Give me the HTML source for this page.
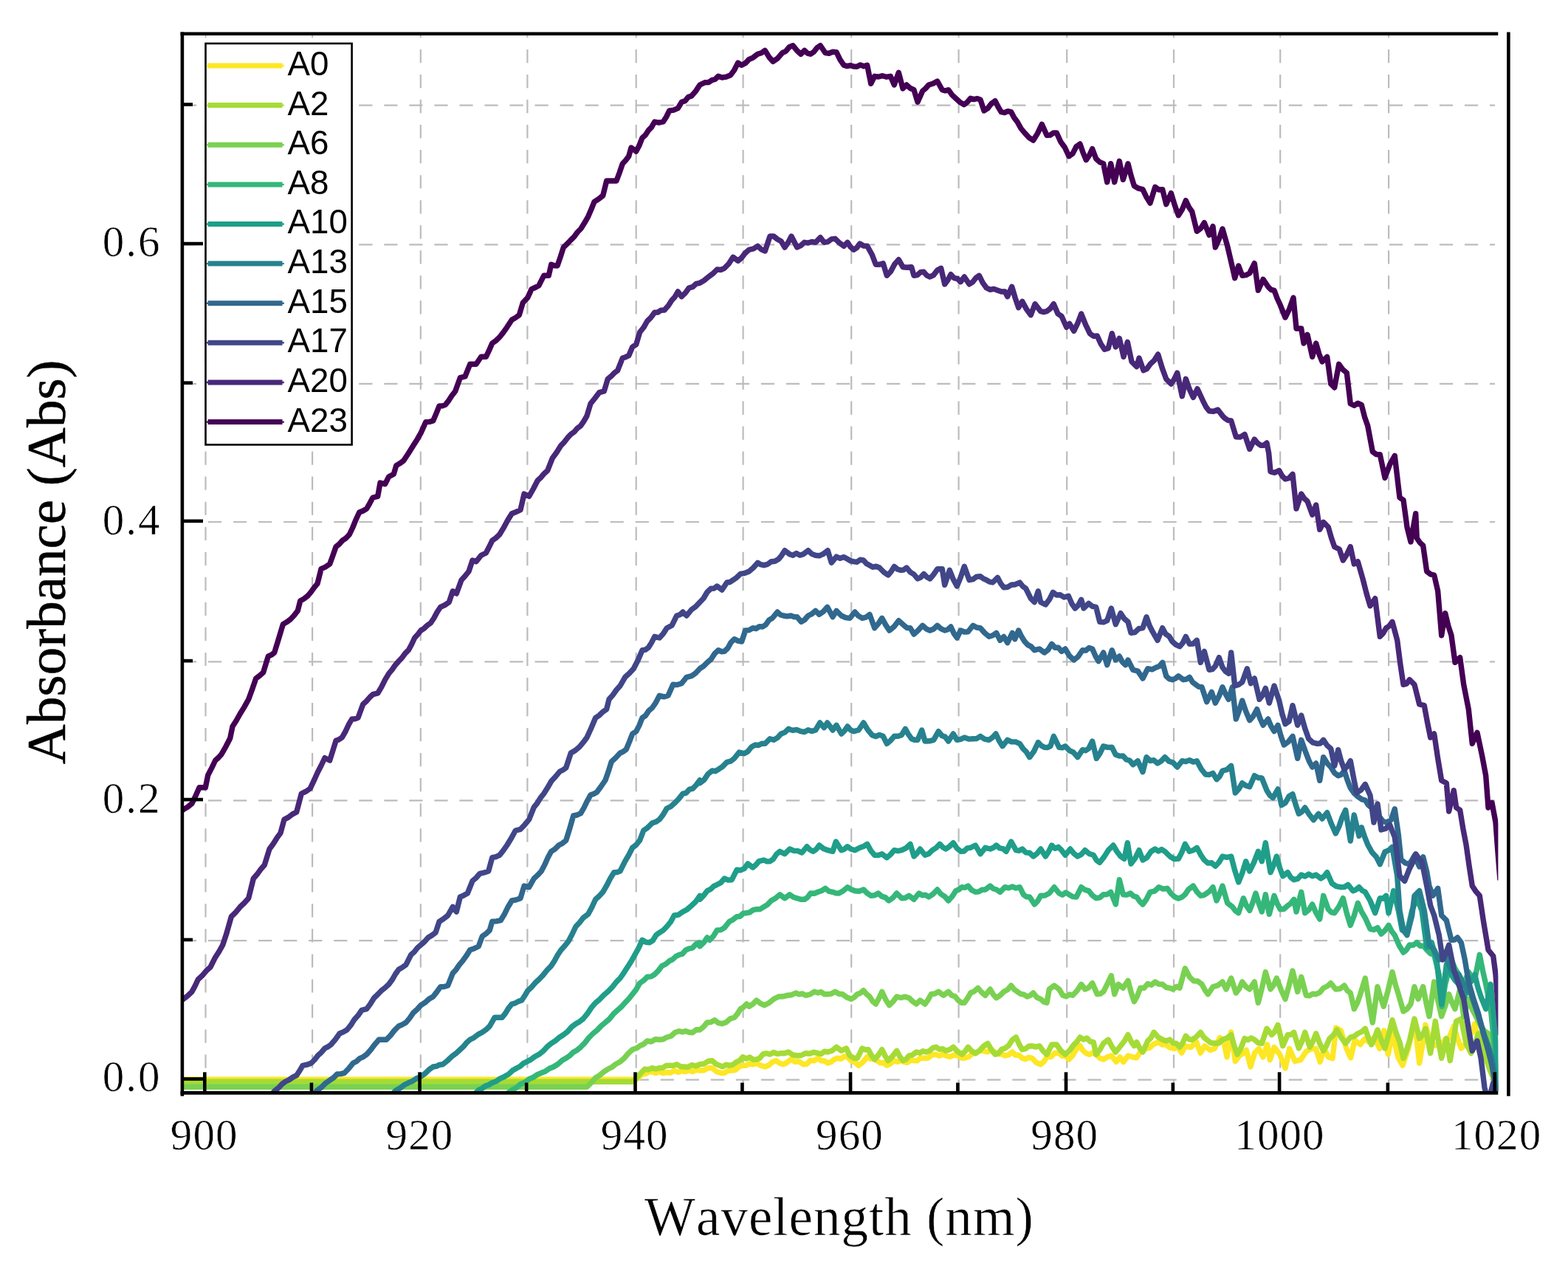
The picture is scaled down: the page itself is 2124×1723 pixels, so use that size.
<!DOCTYPE html>
<html lang="en"><head><meta charset="utf-8"><title>Absorbance vs Wavelength</title>
<style>html,body{margin:0;padding:0;background:#fff}body{width:2124px;height:1723px}svg{display:block}.t{font-family:"Liberation Serif","DejaVu Serif",serif;fill:#000}.l{font-family:"Liberation Sans","DejaVu Sans",sans-serif;fill:#000}</style></head><body>
<svg width="2124" height="1723" viewBox="0 0 2124 1723">
<rect x="0" y="0" width="2124" height="1723" fill="#fff"/>
<defs><clipPath id="cp"><rect x="249.0" y="48.0" width="1780.4" height="1430.1"/></clipPath><clipPath id="gp"><rect x="249.0" y="48.0" width="1776.0" height="1430.0"/></clipPath></defs>
<g clip-path="url(#gp)" stroke="#bcbcbc" stroke-width="2.2" fill="none" stroke-dasharray="18.2 15.84"><line x1="278.5" y1="32.9" x2="278.5" y2="1480"/><line x1="423.1" y1="32.9" x2="423.1" y2="1480"/><line x1="569.8" y1="32.9" x2="569.8" y2="1480"/><line x1="714.4" y1="32.9" x2="714.4" y2="1480"/><line x1="861.7" y1="32.9" x2="861.7" y2="1480"/><line x1="1006.6" y1="32.9" x2="1006.6" y2="1480"/><line x1="1153.2" y1="32.9" x2="1153.2" y2="1480"/><line x1="1298.6" y1="32.9" x2="1298.6" y2="1480"/><line x1="1445.2" y1="32.9" x2="1445.2" y2="1480"/><line x1="1590.0" y1="32.9" x2="1590.0" y2="1480"/><line x1="1734.2" y1="32.9" x2="1734.2" y2="1480"/><line x1="1881.1" y1="32.9" x2="1881.1" y2="1480"/><line x1="247.96" y1="1462.7" x2="2030" y2="1462.7"/><line x1="247.96" y1="1274.1" x2="2030" y2="1274.1"/><line x1="247.96" y1="1084.3" x2="2030" y2="1084.3"/><line x1="247.96" y1="896.3" x2="2030" y2="896.3"/><line x1="247.96" y1="707.0" x2="2030" y2="707.0"/><line x1="247.96" y1="519.8" x2="2030" y2="519.8"/><line x1="247.96" y1="331.3" x2="2030" y2="331.3"/><line x1="247.96" y1="142.7" x2="2030" y2="142.7"/></g>
<g clip-path="url(#cp)" fill="none" stroke-width="7.4" stroke-linejoin="round" stroke-linecap="butt">
<path d="M240.0 1462.3 L245.2 1462.3 L250.4 1462.3 L255.6 1462.3 L260.8 1462.3 L266.1 1462.3 L271.3 1462.3 L276.5 1462.3 L281.7 1462.3 L286.9 1462.3 L292.1 1462.3 L297.3 1462.3 L302.5 1462.3 L307.7 1462.3 L312.9 1462.3 L318.2 1462.3 L323.4 1462.3 L328.6 1462.3 L333.8 1462.3 L339.0 1462.3 L344.2 1462.3 L349.4 1462.3 L354.6 1462.3 L359.8 1462.3 L365.0 1462.3 L370.3 1462.3 L375.5 1462.3 L380.7 1462.3 L385.9 1462.3 L391.1 1462.3 L396.3 1462.3 L401.5 1462.3 L406.7 1462.3 L411.9 1462.3 L417.1 1462.3 L422.4 1462.3 L427.6 1462.3 L432.8 1462.3 L438.0 1462.3 L443.2 1462.3 L448.4 1462.3 L453.6 1462.3 L458.8 1462.3 L464.0 1462.3 L469.2 1462.3 L474.5 1462.3 L479.7 1462.3 L484.9 1462.3 L490.1 1462.3 L495.3 1462.3 L500.5 1462.3 L505.7 1462.3 L510.9 1462.3 L516.1 1462.3 L521.3 1462.3 L526.6 1462.3 L531.8 1462.3 L537.0 1462.3 L542.2 1462.3 L547.4 1462.3 L552.6 1462.3 L557.8 1462.3 L563.0 1462.3 L568.2 1462.3 L573.4 1462.3 L578.7 1462.3 L583.9 1462.3 L589.1 1462.3 L594.3 1462.3 L599.5 1462.3 L604.7 1462.3 L609.9 1462.3 L615.1 1462.3 L620.3 1462.3 L625.5 1462.3 L630.8 1462.3 L636.0 1462.3 L641.2 1462.3 L646.4 1462.3 L651.6 1462.3 L656.8 1462.3 L662.0 1462.3 L667.2 1462.3 L672.4 1462.3 L677.6 1462.3 L682.9 1462.3 L688.1 1462.3 L693.3 1462.3 L698.5 1462.3 L703.7 1462.3 L708.9 1462.3 L714.1 1462.3 L719.3 1462.3 L724.5 1462.3 L729.7 1462.3 L735.0 1462.3 L740.2 1462.3 L745.4 1462.3 L750.6 1462.3 L755.8 1462.3 L761.0 1462.3 L766.2 1462.3 L771.4 1462.3 L776.6 1462.3 L781.8 1462.3 L787.1 1462.3 L792.3 1462.3 L797.5 1462.3 L802.7 1462.3 L807.9 1462.3 L813.1 1462.3 L818.3 1462.3 L823.5 1462.3 L828.7 1462.3 L833.9 1462.3 L839.2 1462.3 L844.4 1462.3 L849.6 1462.3 L854.8 1462.3 L860.0 1462.3 L865.0 1459.7 L870.0 1455.0 L874.4 1454.6 L878.9 1452.1 L883.3 1451.7 L888.3 1453.5 L893.3 1451.3 L898.3 1453.7 L903.3 1452.7 L908.3 1453.1 L913.3 1450.2 L918.3 1452.4 L923.3 1450.7 L928.3 1451.5 L933.2 1449.6 L938.1 1451.6 L943.1 1449.4 L948.0 1450.0 L953.6 1449.7 L959.1 1446.6 L964.7 1446.7 L970.5 1451.5 L976.3 1453.3 L981.3 1453.5 L986.3 1450.2 L991.3 1450.0 L996.3 1449.3 L1001.3 1444.7 L1006.3 1443.3 L1010.9 1443.2 L1015.5 1440.8 L1020.1 1441.9 L1024.7 1440.0 L1030.5 1443.2 L1036.3 1445.0 L1041.3 1443.0 L1046.3 1438.5 L1051.3 1436.7 L1056.3 1440.4 L1061.3 1441.7 L1066.3 1439.1 L1071.3 1435.0 L1076.9 1438.2 L1082.4 1437.9 L1088.0 1441.7 L1093.0 1441.2 L1098.0 1436.2 L1103.0 1436.7 L1108.0 1433.3 L1112.4 1436.8 L1116.9 1437.0 L1121.3 1440.0 L1125.8 1438.5 L1130.2 1434.9 L1134.7 1433.3 L1139.1 1434.3 L1143.6 1430.9 L1148.0 1431.7 L1153.0 1437.1 L1158.0 1438.8 L1163.0 1443.3 L1168.8 1438.8 L1174.7 1431.7 L1179.1 1434.4 L1183.6 1433.7 L1188.0 1436.7 L1192.4 1439.8 L1196.9 1439.5 L1201.3 1443.3 L1206.3 1440.7 L1211.3 1436.7 L1215.8 1438.4 L1220.2 1436.4 L1224.7 1438.3 L1229.1 1439.3 L1233.6 1435.9 L1238.0 1436.7 L1242.4 1436.9 L1246.9 1433.0 L1251.3 1433.3 L1256.9 1433.2 L1262.4 1429.0 L1268.0 1428.3 L1272.4 1430.2 L1276.9 1427.9 L1281.3 1430.0 L1286.9 1431.5 L1292.4 1429.0 L1298.0 1430.0 L1302.2 1433.1 L1306.3 1433.3 L1312.2 1431.5 L1318.0 1426.7 L1322.4 1426.7 L1326.9 1423.2 L1331.3 1423.3 L1336.9 1424.9 L1342.4 1423.2 L1348.0 1425.0 L1352.4 1427.9 L1356.9 1427.6 L1361.3 1430.0 L1366.3 1428.8 L1371.3 1425.0 L1375.8 1429.4 L1380.2 1429.1 L1384.7 1433.3 L1389.1 1434.7 L1393.6 1432.3 L1398.0 1433.3 L1403.8 1439.4 L1409.7 1441.7 L1413.8 1438.3 L1418.0 1431.7 L1423.6 1431.5 L1429.1 1426.3 L1434.7 1426.7 L1439.1 1430.4 L1443.6 1430.4 L1448.0 1435.0 L1453.0 1429.8 L1458.0 1421.1 L1463.0 1416.7 L1467.2 1423.2 L1471.3 1426.7 L1475.8 1428.4 L1480.2 1426.0 L1484.7 1428.3 L1489.7 1433.2 L1494.7 1435.0 L1500.0 1431.8 L1505.6 1429.9 L1512.2 1438.4 L1516.9 1431.8 L1521.7 1438.4 L1528.2 1429.9 L1533.9 1431.8 L1539.5 1432.8 L1545.2 1424.3 L1552.7 1420.5 L1557.4 1419.4 L1562.1 1414.9 L1569.7 1411.1 L1574.4 1415.1 L1579.1 1414.9 L1584.7 1418.9 L1590.4 1420.5 L1596.0 1418.6 L1600.8 1426.2 L1605.5 1416.8 L1613.0 1418.6 L1620.5 1411.1 L1626.2 1426.2 L1631.8 1416.8 L1639.4 1422.4 L1645.0 1420.5 L1652.5 1405.5 L1658.2 1413.0 L1662.0 1431.8 L1667.6 1397.9 L1673.3 1437.5 L1678.9 1429.9 L1683.6 1427.1 L1688.3 1422.4 L1694.0 1445.0 L1699.6 1426.2 L1705.3 1420.5 L1710.9 1431.8 L1716.6 1414.9 L1720.3 1435.6 L1726.0 1418.6 L1733.5 1428.1 L1741.1 1446.9 L1746.7 1420.5 L1754.2 1437.5 L1761.8 1435.6 L1769.3 1424.3 L1776.8 1420.5 L1782.5 1420.5 L1788.1 1438.4 L1793.8 1420.5 L1799.4 1431.8 L1805.1 1433.7 L1809.8 1392.3 L1816.4 1396.0 L1823.9 1420.5 L1829.6 1432.8 L1835.2 1409.2 L1842.7 1414.9 L1848.4 1407.3 L1854.0 1411.1 L1861.6 1405.5 L1869.1 1420.5 L1874.8 1396.0 L1880.4 1428.1 L1886.1 1397.9 L1893.6 1431.8 L1900.0 1443.1 L1907.7 1420.0 L1911.8 1402.1 L1916.0 1381.7 L1922.7 1440.0 L1926.8 1415.9 L1931.0 1388.3 L1935.2 1403.6 L1939.3 1416.7 L1944.3 1416.1 L1949.3 1413.3 L1953.8 1413.2 L1958.2 1407.1 L1962.7 1406.7 L1969.3 1390.0 L1974.3 1406.5 L1979.3 1420.0 L1984.3 1415.4 L1989.3 1406.7 L1993.5 1398.0 L1997.7 1386.7 L2001.8 1405.1 L2006.0 1420.0 L2011.0 1427.8 L2016.0 1433.3 L2021.0 1451.4 L2026.0 1466.7 L2028.7 1500.0" stroke="#fde725"/>
<path d="M240.0 1465.3 L245.2 1465.3 L250.4 1465.3 L255.5 1465.3 L260.7 1465.3 L265.9 1465.3 L271.1 1465.3 L276.3 1465.3 L281.5 1465.3 L286.6 1465.3 L291.8 1465.3 L297.0 1465.3 L302.2 1465.3 L307.4 1465.3 L312.5 1465.3 L317.7 1465.3 L322.9 1465.3 L328.1 1465.3 L333.3 1465.3 L338.5 1465.3 L343.6 1465.3 L348.8 1465.3 L354.0 1465.3 L359.2 1465.3 L364.4 1465.3 L369.6 1465.3 L374.7 1465.3 L379.9 1465.3 L385.1 1465.3 L390.3 1465.3 L395.5 1465.3 L400.6 1465.3 L405.8 1465.3 L411.0 1465.3 L416.2 1465.3 L421.4 1465.3 L426.6 1465.3 L431.7 1465.3 L436.9 1465.3 L442.1 1465.3 L447.3 1465.3 L452.5 1465.3 L457.6 1465.3 L462.8 1465.3 L468.0 1465.3 L473.2 1465.3 L478.4 1465.3 L483.6 1465.3 L488.7 1465.3 L493.9 1465.3 L499.1 1465.3 L504.3 1465.3 L509.5 1465.3 L514.6 1465.3 L519.8 1465.3 L525.0 1465.3 L530.2 1465.3 L535.4 1465.3 L540.6 1465.3 L545.7 1465.3 L550.9 1465.3 L556.1 1465.3 L561.3 1465.3 L566.5 1465.3 L571.7 1465.3 L576.8 1465.3 L582.0 1465.3 L587.2 1465.3 L592.4 1465.3 L597.6 1465.3 L602.7 1465.3 L607.9 1465.3 L613.1 1465.3 L618.3 1465.3 L623.5 1465.3 L628.7 1465.3 L633.8 1465.3 L639.0 1465.3 L644.2 1465.3 L649.4 1465.3 L654.6 1465.3 L659.7 1465.3 L664.9 1465.3 L670.1 1465.3 L675.3 1465.3 L680.5 1465.3 L685.7 1465.3 L690.8 1465.3 L696.0 1465.3 L701.2 1465.3 L706.4 1465.3 L711.6 1465.3 L716.8 1465.3 L721.9 1465.3 L727.1 1465.3 L732.3 1465.3 L737.5 1465.3 L742.7 1465.3 L747.8 1465.3 L753.0 1465.3 L758.2 1465.3 L763.4 1465.3 L768.6 1465.3 L773.8 1465.3 L778.9 1465.3 L784.1 1465.3 L789.3 1465.3 L794.5 1465.3 L799.7 1465.3 L804.8 1465.3 L810.0 1465.3 L815.2 1465.3 L820.4 1465.3 L825.6 1465.3 L830.8 1465.3 L835.9 1465.3 L841.1 1465.3 L846.3 1465.3 L851.5 1465.3 L856.7 1465.3 L861.7 1461.3 L866.7 1455.0 L873.3 1448.3 L878.3 1448.8 L883.3 1446.7 L888.3 1448.0 L893.3 1446.7 L897.8 1446.4 L902.2 1443.5 L906.7 1443.3 L911.7 1443.4 L916.7 1441.7 L921.7 1444.6 L926.7 1445.0 L932.0 1445.5 L937.3 1442.6 L942.7 1444.0 L948.0 1441.7 L953.6 1441.0 L959.1 1437.5 L964.7 1436.7 L969.7 1441.1 L974.7 1443.3 L979.1 1444.9 L983.6 1442.2 L988.0 1443.3 L993.0 1442.1 L998.0 1438.3 L1002.2 1436.5 L1006.3 1431.7 L1010.9 1434.1 L1015.5 1432.0 L1020.1 1435.2 L1024.7 1435.0 L1029.1 1433.4 L1033.6 1427.9 L1038.0 1426.7 L1043.0 1428.1 L1048.0 1425.5 L1053.0 1427.6 L1058.0 1426.7 L1063.0 1426.8 L1068.0 1425.0 L1073.8 1428.8 L1079.7 1430.0 L1085.5 1429.5 L1091.3 1426.7 L1096.9 1427.3 L1102.4 1425.3 L1108.0 1426.7 L1112.4 1427.6 L1116.9 1424.1 L1121.3 1425.0 L1127.2 1423.2 L1133.0 1418.3 L1139.7 1423.3 L1146.3 1420.0 L1151.3 1430.0 L1156.3 1433.2 L1161.3 1433.3 L1168.0 1420.0 L1172.2 1422.0 L1176.3 1421.7 L1180.5 1429.7 L1184.7 1435.0 L1189.7 1429.3 L1194.7 1421.7 L1198.8 1429.9 L1203.0 1436.7 L1208.8 1431.0 L1214.7 1423.3 L1218.8 1430.9 L1223.0 1436.7 L1227.2 1434.9 L1231.3 1430.0 L1236.3 1428.8 L1241.3 1425.0 L1245.8 1426.2 L1250.2 1423.8 L1254.7 1425.0 L1259.1 1423.5 L1263.6 1419.4 L1268.0 1418.3 L1272.4 1421.3 L1276.9 1420.6 L1281.3 1423.3 L1286.3 1421.7 L1291.3 1418.3 L1297.2 1424.4 L1303.0 1428.3 L1307.2 1424.3 L1311.3 1418.3 L1316.3 1423.8 L1321.3 1426.7 L1326.9 1423.0 L1332.4 1417.1 L1338.0 1413.3 L1343.0 1421.8 L1348.0 1428.3 L1352.4 1426.9 L1356.9 1421.4 L1361.3 1420.0 L1366.3 1416.3 L1371.3 1408.5 L1376.3 1405.0 L1380.5 1414.3 L1384.7 1421.7 L1389.1 1420.7 L1393.6 1417.2 L1398.0 1416.7 L1403.0 1418.1 L1408.0 1416.7 L1413.0 1423.6 L1418.0 1428.3 L1424.7 1415.0 L1431.3 1415.0 L1437.2 1423.4 L1443.0 1428.3 L1448.8 1423.0 L1454.7 1415.0 L1458.8 1411.2 L1463.0 1405.0 L1467.6 1408.0 L1472.2 1406.2 L1476.8 1410.9 L1481.3 1411.7 L1484.7 1428.3 L1489.7 1422.2 L1494.7 1413.3 L1501.3 1408.3 L1506.3 1417.9 L1511.3 1425.0 L1518.0 1416.7 L1523.0 1410.3 L1528.0 1401.7 L1532.2 1410.6 L1536.3 1416.7 L1539.7 1411.7 L1543.8 1419.5 L1548.0 1425.0 L1554.7 1410.0 L1558.8 1406.3 L1563.0 1398.3 L1568.8 1404.9 L1574.7 1408.3 L1579.7 1410.1 L1584.7 1408.3 L1589.1 1412.8 L1593.6 1413.5 L1598.0 1418.3 L1602.2 1412.5 L1606.3 1403.3 L1610.5 1407.8 L1614.7 1408.3 L1620.5 1404.5 L1626.3 1398.3 L1630.5 1404.8 L1634.7 1408.3 L1640.5 1412.8 L1646.3 1413.3 L1651.2 1412.8 L1656.0 1408.3 L1661.8 1406.2 L1667.7 1401.7 L1671.8 1416.6 L1676.0 1428.3 L1681.0 1419.4 L1686.0 1406.7 L1690.4 1408.6 L1694.9 1406.0 L1699.3 1408.3 L1704.3 1412.6 L1709.3 1413.3 L1716.0 1393.3 L1722.7 1401.7 L1726.8 1397.2 L1731.0 1388.3 L1737.7 1416.7 L1744.3 1401.7 L1748.5 1401.6 L1752.7 1398.3 L1759.3 1420.0 L1763.5 1410.9 L1767.7 1398.3 L1774.3 1418.3 L1778.5 1410.5 L1782.7 1400.0 L1787.7 1413.5 L1792.7 1423.3 L1796.8 1416.3 L1801.0 1406.7 L1806.0 1402.4 L1811.0 1395.0 L1816.8 1405.5 L1822.7 1413.3 L1829.3 1405.0 L1834.3 1403.8 L1839.3 1400.0 L1844.3 1397.7 L1849.3 1393.3 L1853.5 1405.3 L1857.7 1415.0 L1861.8 1406.6 L1866.0 1395.0 L1871.0 1408.7 L1876.0 1420.0 L1881.0 1401.8 L1886.0 1381.7 L1891.0 1398.6 L1896.0 1411.7 L1901.0 1433.3 L1905.2 1422.9 L1909.3 1410.0 L1916.0 1380.0 L1922.7 1406.7 L1926.8 1402.1 L1931.0 1393.3 L1937.7 1426.7 L1944.3 1383.3 L1948.5 1410.0 L1952.7 1433.3 L1959.3 1406.7 L1964.3 1436.7 L1968.5 1411.4 L1972.7 1383.3 L1979.3 1380.0 L1986.0 1413.3 L1992.7 1426.7 L1997.7 1415.4 L2002.7 1400.0 L2007.7 1418.7 L2012.7 1433.3 L2017.7 1448.0 L2022.7 1460.0 L2027.7 1476.7 L2028.7 1500.0" stroke="#a5db36"/>
<path d="M240.0 1472.3 L245.2 1472.3 L250.4 1472.3 L255.6 1472.3 L260.7 1472.3 L265.9 1472.3 L271.1 1472.3 L276.3 1472.3 L281.5 1472.3 L286.7 1472.3 L291.9 1472.3 L297.1 1472.3 L302.2 1472.3 L307.4 1472.3 L312.6 1472.3 L317.8 1472.3 L323.0 1472.3 L328.2 1472.3 L333.4 1472.3 L338.6 1472.3 L343.7 1472.3 L348.9 1472.3 L354.1 1472.3 L359.3 1472.3 L364.5 1472.3 L369.7 1472.3 L374.9 1472.3 L380.0 1472.3 L385.2 1472.3 L390.4 1472.3 L395.6 1472.3 L400.8 1472.3 L406.0 1472.3 L411.2 1472.3 L416.4 1472.3 L421.5 1472.3 L426.7 1472.3 L431.9 1472.3 L437.1 1472.3 L442.3 1472.3 L447.5 1472.3 L452.7 1472.3 L457.9 1472.3 L463.0 1472.3 L468.2 1472.3 L473.4 1472.3 L478.6 1472.3 L483.8 1472.3 L489.0 1472.3 L494.2 1472.3 L499.3 1472.3 L504.5 1472.3 L509.7 1472.3 L514.9 1472.3 L520.1 1472.3 L525.3 1472.3 L530.5 1472.3 L535.7 1472.3 L540.8 1472.3 L546.0 1472.3 L551.2 1472.3 L556.4 1472.3 L561.6 1472.3 L566.8 1472.3 L572.0 1472.3 L577.1 1472.3 L582.3 1472.3 L587.5 1472.3 L592.7 1472.3 L597.9 1472.3 L603.1 1472.3 L608.3 1472.3 L613.5 1472.3 L618.6 1472.3 L623.8 1472.3 L629.0 1472.3 L634.2 1472.3 L639.4 1472.3 L644.6 1472.3 L649.8 1472.3 L655.0 1472.3 L660.1 1472.3 L665.3 1472.3 L670.5 1472.3 L675.7 1472.3 L680.9 1472.3 L686.1 1472.3 L691.3 1472.3 L696.4 1472.3 L701.6 1472.3 L706.8 1472.3 L712.0 1472.3 L717.2 1472.3 L722.4 1472.3 L727.6 1472.3 L732.8 1472.3 L737.9 1472.3 L743.1 1472.3 L748.3 1472.3 L753.5 1472.3 L758.7 1472.3 L763.9 1472.3 L769.1 1472.3 L774.3 1472.3 L779.4 1472.3 L784.6 1472.3 L789.8 1472.3 L795.0 1472.3 L800.8 1466.6 L806.7 1460.0 L812.2 1456.6 L817.8 1451.9 L823.3 1448.3 L828.9 1445.5 L834.4 1441.2 L840.0 1438.3 L845.6 1433.4 L851.1 1426.9 L856.7 1421.7 L861.7 1420.1 L866.7 1416.7 L871.7 1414.5 L876.7 1410.0 L882.2 1411.0 L887.8 1407.8 L893.3 1408.3 L898.3 1407.8 L903.3 1405.0 L908.9 1403.5 L914.4 1398.5 L920.0 1396.7 L924.4 1397.9 L928.9 1396.7 L933.3 1398.3 L938.2 1398.7 L943.1 1394.8 L948.0 1395.0 L953.0 1390.9 L958.0 1385.0 L963.0 1384.6 L968.0 1381.7 L973.0 1385.6 L978.0 1386.7 L983.6 1384.8 L989.1 1379.9 L994.7 1378.3 L998.8 1373.5 L1003.0 1366.7 L1007.2 1364.2 L1011.3 1360.0 L1014.7 1363.3 L1019.7 1360.1 L1024.7 1355.0 L1030.0 1359.2 L1035.3 1361.7 L1041.7 1358.5 L1048.0 1353.3 L1054.7 1350.0 L1060.5 1349.8 L1066.3 1348.3 L1072.2 1347.7 L1078.0 1345.0 L1082.4 1346.8 L1086.9 1345.9 L1091.3 1348.3 L1097.2 1347.0 L1103.0 1343.3 L1107.6 1344.8 L1112.2 1343.6 L1116.8 1346.7 L1121.3 1346.7 L1126.3 1346.1 L1131.3 1343.3 L1136.3 1346.2 L1141.3 1346.7 L1147.2 1351.0 L1153.0 1353.3 L1157.2 1350.9 L1161.3 1346.7 L1165.5 1345.2 L1169.7 1341.7 L1173.8 1346.6 L1178.0 1350.0 L1182.2 1356.5 L1186.3 1360.0 L1190.5 1352.4 L1194.7 1343.3 L1199.7 1353.9 L1204.7 1361.7 L1209.7 1356.7 L1214.7 1350.0 L1220.2 1351.5 L1225.8 1350.1 L1231.3 1351.7 L1236.3 1356.5 L1241.3 1360.0 L1246.3 1355.0 L1253.0 1360.0 L1257.2 1354.1 L1261.3 1346.7 L1266.3 1346.0 L1271.3 1343.3 L1278.0 1348.3 L1284.7 1343.3 L1289.1 1348.3 L1293.6 1349.6 L1298.0 1355.0 L1302.2 1358.3 L1306.3 1358.3 L1310.5 1352.3 L1314.7 1345.0 L1319.7 1342.8 L1324.7 1338.3 L1329.7 1344.1 L1334.7 1348.3 L1341.3 1340.0 L1345.5 1347.2 L1349.7 1351.7 L1354.7 1348.4 L1359.7 1343.3 L1364.7 1340.7 L1369.7 1335.0 L1373.8 1340.3 L1378.0 1343.3 L1382.4 1346.3 L1386.9 1347.1 L1391.3 1350.0 L1395.5 1348.4 L1399.7 1345.0 L1404.7 1351.2 L1409.7 1353.3 L1413.8 1356.9 L1418.0 1358.3 L1421.3 1340.0 L1428.0 1335.0 L1434.7 1340.0 L1439.7 1348.3 L1444.1 1349.8 L1448.6 1347.0 L1453.0 1348.3 L1458.8 1342.2 L1464.7 1333.3 L1469.7 1340.0 L1474.7 1337.8 L1479.7 1331.7 L1486.3 1346.7 L1490.5 1346.2 L1494.7 1343.3 L1499.7 1333.3 L1505.3 1321.7 L1509.7 1346.7 L1514.7 1333.3 L1521.3 1338.3 L1528.0 1328.3 L1532.2 1344.3 L1536.3 1356.7 L1540.5 1349.3 L1544.7 1338.3 L1549.7 1338.4 L1554.7 1332.6 L1559.7 1334.2 L1564.7 1330.0 L1569.7 1333.1 L1574.7 1333.3 L1579.7 1337.5 L1584.7 1338.3 L1589.1 1340.0 L1593.6 1336.3 L1598.0 1338.3 L1605.3 1311.7 L1611.3 1323.3 L1616.9 1328.7 L1622.4 1329.0 L1628.0 1333.3 L1632.2 1341.1 L1636.3 1346.7 L1643.0 1336.7 L1649.5 1334.9 L1656.0 1330.0 L1661.0 1340.0 L1667.7 1325.0 L1674.3 1345.0 L1678.5 1339.5 L1682.7 1330.0 L1687.7 1336.6 L1692.7 1340.0 L1699.3 1330.0 L1704.3 1358.3 L1709.3 1338.8 L1714.3 1316.7 L1721.0 1340.0 L1725.2 1334.6 L1729.3 1325.0 L1735.2 1340.4 L1741.0 1353.3 L1746.0 1335.2 L1751.0 1315.0 L1757.7 1343.3 L1762.7 1323.3 L1769.3 1348.3 L1773.8 1348.7 L1778.2 1346.3 L1782.7 1346.7 L1787.7 1344.3 L1792.7 1338.3 L1797.7 1336.0 L1802.7 1331.7 L1809.3 1340.0 L1815.2 1339.3 L1821.0 1335.0 L1825.2 1342.0 L1829.3 1345.0 L1834.3 1366.7 L1838.5 1358.9 L1842.7 1346.7 L1849.3 1325.0 L1854.3 1356.9 L1859.3 1385.0 L1866.0 1336.7 L1870.2 1351.4 L1874.3 1363.3 L1880.2 1341.7 L1886.0 1316.7 L1890.2 1333.6 L1894.3 1346.7 L1901.0 1370.0 L1906.0 1366.8 L1911.0 1360.0 L1916.0 1336.7 L1921.0 1353.3 L1927.7 1336.7 L1931.8 1357.9 L1936.0 1376.7 L1942.7 1330.0 L1947.7 1355.2 L1952.7 1376.7 L1957.7 1362.7 L1962.7 1346.7 L1966.8 1358.0 L1971.0 1366.7 L1977.7 1340.0 L1982.7 1376.7 L1989.3 1353.3 L1994.3 1367.2 L1999.3 1376.7 L2006.0 1390.0 L2011.0 1396.5 L2016.0 1400.0 L2020.2 1414.6 L2024.3 1426.7 L2027.7 1466.7 L2028.7 1500.0" stroke="#7ad151"/>
<path d="M683.3 1483.3 L688.3 1480.3 L693.3 1476.7 L699.2 1473.5 L705.0 1468.6 L710.8 1466.1 L716.7 1461.7 L722.2 1459.3 L727.8 1455.7 L733.3 1453.3 L738.9 1451.1 L744.4 1447.2 L750.0 1445.0 L755.6 1441.5 L761.1 1436.7 L766.7 1433.3 L771.7 1430.0 L776.7 1425.2 L781.7 1422.4 L786.7 1418.3 L792.2 1412.6 L797.8 1405.5 L803.3 1400.0 L808.9 1395.4 L814.4 1389.6 L820.0 1385.0 L825.6 1380.1 L831.1 1373.3 L836.7 1368.3 L841.7 1363.7 L846.7 1358.3 L851.7 1353.0 L856.7 1346.7 L861.7 1340.4 L866.7 1331.7 L871.7 1328.3 L876.7 1323.3 L881.7 1322.9 L886.7 1320.0 L891.7 1314.9 L896.7 1308.3 L901.7 1306.0 L906.7 1301.7 L911.1 1299.6 L915.6 1295.3 L920.0 1293.3 L924.4 1292.1 L928.9 1286.8 L933.3 1285.0 L938.2 1283.8 L943.1 1278.4 L948.0 1276.7 L948.0 1281.7 L953.0 1277.1 L958.0 1270.0 L961.3 1273.3 L966.3 1268.1 L971.3 1260.0 L976.3 1259.6 L981.3 1256.7 L988.0 1248.3 L993.0 1245.7 L998.0 1241.7 L1002.4 1241.2 L1006.9 1237.1 L1011.3 1236.7 L1015.8 1235.8 L1020.2 1232.6 L1024.7 1231.7 L1029.7 1231.5 L1034.7 1228.3 L1039.7 1225.3 L1044.7 1220.0 L1050.5 1216.7 L1056.3 1211.7 L1063.0 1216.7 L1069.7 1211.7 L1074.7 1215.2 L1079.7 1216.7 L1084.7 1218.3 L1089.7 1218.3 L1093.8 1215.6 L1098.0 1210.0 L1103.0 1210.3 L1108.0 1208.3 L1113.0 1206.6 L1118.0 1203.3 L1123.0 1207.3 L1128.0 1208.3 L1132.2 1209.9 L1136.3 1210.0 L1142.2 1206.7 L1148.0 1201.7 L1153.0 1204.8 L1158.0 1206.7 L1163.8 1207.2 L1169.7 1205.0 L1174.7 1209.9 L1179.7 1213.3 L1184.7 1212.8 L1189.7 1210.0 L1194.4 1214.1 L1199.2 1215.6 L1204.0 1220.0 L1209.3 1216.3 L1214.7 1210.0 L1221.3 1216.7 L1226.3 1216.2 L1231.3 1213.3 L1238.0 1218.3 L1244.7 1210.0 L1249.1 1212.7 L1253.6 1212.2 L1258.0 1215.0 L1263.8 1211.1 L1269.7 1205.0 L1274.7 1211.2 L1279.7 1214.3 L1284.7 1220.0 L1289.7 1214.4 L1294.7 1206.7 L1298.8 1205.0 L1303.0 1201.7 L1307.2 1202.3 L1311.3 1200.0 L1316.3 1205.7 L1321.3 1208.3 L1325.8 1207.9 L1330.2 1205.3 L1334.7 1205.0 L1341.3 1200.0 L1345.5 1203.8 L1349.7 1205.0 L1354.7 1208.3 L1361.3 1201.7 L1366.3 1202.9 L1371.3 1201.0 L1376.3 1203.0 L1381.3 1201.7 L1386.3 1211.7 L1390.5 1214.9 L1394.7 1215.0 L1401.3 1225.0 L1405.5 1220.6 L1409.7 1213.3 L1415.5 1213.0 L1421.3 1210.0 L1428.0 1201.7 L1434.7 1210.0 L1439.1 1212.2 L1443.6 1209.0 L1448.0 1211.7 L1453.0 1214.6 L1458.0 1215.0 L1464.7 1201.7 L1469.7 1205.4 L1474.7 1206.7 L1479.7 1212.8 L1484.7 1216.7 L1489.7 1215.9 L1494.7 1211.7 L1499.7 1211.5 L1504.7 1208.3 L1511.3 1225.0 L1516.3 1191.7 L1521.3 1211.7 L1526.3 1212.1 L1531.3 1210.0 L1535.5 1213.9 L1539.7 1215.0 L1543.8 1220.9 L1548.0 1225.0 L1553.0 1218.0 L1558.0 1208.3 L1563.8 1207.2 L1569.7 1201.7 L1575.5 1204.2 L1581.3 1203.3 L1586.3 1210.4 L1591.3 1215.0 L1596.3 1217.1 L1601.3 1215.0 L1605.5 1211.4 L1609.7 1205.0 L1616.3 1200.0 L1621.3 1207.9 L1626.3 1213.3 L1630.5 1212.6 L1634.7 1210.0 L1638.8 1206.9 L1643.0 1201.7 L1648.0 1220.0 L1652.0 1211.1 L1656.0 1200.0 L1662.7 1223.3 L1669.3 1228.3 L1673.5 1233.7 L1677.7 1236.7 L1684.3 1216.7 L1688.5 1227.0 L1692.7 1233.3 L1696.8 1222.9 L1701.0 1210.0 L1705.2 1223.7 L1709.3 1235.0 L1714.3 1211.7 L1719.3 1238.3 L1726.0 1213.3 L1730.2 1224.2 L1734.3 1231.7 L1739.3 1231.3 L1744.3 1226.7 L1748.5 1223.8 L1752.7 1218.3 L1756.0 1235.0 L1762.7 1208.3 L1767.7 1236.7 L1772.7 1232.7 L1777.7 1225.0 L1782.7 1236.4 L1787.7 1245.0 L1792.7 1213.3 L1799.3 1231.7 L1803.5 1235.8 L1807.7 1236.7 L1813.5 1228.3 L1819.3 1216.7 L1824.3 1237.1 L1829.3 1253.3 L1834.3 1240.2 L1839.3 1223.3 L1844.3 1234.9 L1849.3 1243.3 L1856.0 1258.3 L1861.0 1259.5 L1866.0 1256.7 L1871.0 1265.0 L1876.0 1260.5 L1881.0 1253.3 L1885.2 1261.4 L1889.3 1266.7 L1895.2 1280.5 L1901.0 1290.0 L1905.2 1286.6 L1909.3 1280.0 L1914.3 1280.2 L1919.3 1276.7 L1923.8 1281.3 L1928.2 1281.2 L1932.7 1286.7 L1937.7 1291.7 L1942.7 1293.3 L1949.3 1320.0 L1953.3 1363.3 L1957.7 1333.3 L1961.8 1317.9 L1966.0 1300.0 L1971.0 1312.1 L1976.0 1320.0 L1982.7 1333.3 L1989.3 1316.7 L1993.5 1323.2 L1997.7 1326.7 L2004.3 1293.3 L2008.5 1314.7 L2012.7 1333.3 L2019.3 1366.7 L2024.3 1416.7 L2027.7 1466.7 L2028.7 1500.0" stroke="#35b779"/>
<path d="M640.0 1483.3 L644.2 1480.7 L648.3 1476.7 L652.9 1474.5 L657.5 1471.1 L662.1 1469.5 L666.7 1466.7 L672.2 1464.6 L677.8 1460.8 L683.3 1458.3 L688.9 1455.1 L694.4 1450.0 L700.0 1446.7 L704.4 1444.5 L708.9 1440.4 L713.3 1438.3 L718.9 1435.4 L724.4 1431.2 L730.0 1428.3 L735.6 1423.9 L741.1 1417.9 L746.7 1413.3 L752.2 1409.8 L757.8 1405.2 L763.3 1401.7 L768.9 1397.3 L774.4 1391.0 L780.0 1386.7 L785.0 1383.9 L790.0 1380.0 L795.6 1373.2 L801.1 1364.9 L806.7 1358.3 L812.2 1353.8 L817.8 1348.0 L823.3 1343.3 L828.9 1337.7 L834.4 1330.7 L840.0 1325.0 L845.0 1317.8 L850.0 1310.0 L855.0 1302.2 L860.0 1293.3 L865.0 1284.3 L870.0 1273.3 L875.0 1276.2 L880.0 1276.7 L884.4 1273.8 L888.9 1266.5 L893.3 1263.3 L898.3 1260.2 L903.3 1255.0 L908.3 1249.0 L913.3 1240.0 L919.2 1239.1 L925.0 1235.0 L930.8 1231.9 L936.7 1226.7 L942.3 1221.5 L948.0 1213.3 L948.0 1218.3 L953.0 1213.2 L958.0 1206.7 L962.4 1204.7 L966.9 1200.3 L971.3 1198.3 L976.3 1195.7 L981.3 1190.0 L986.3 1192.1 L991.3 1191.7 L998.0 1178.3 L1003.0 1178.8 L1008.0 1176.7 L1013.0 1170.0 L1019.7 1175.0 L1023.8 1171.7 L1028.0 1166.7 L1034.7 1165.0 L1038.8 1166.9 L1043.0 1166.7 L1047.4 1163.7 L1051.9 1157.0 L1056.3 1153.3 L1063.0 1156.7 L1069.7 1150.0 L1075.2 1152.4 L1080.8 1152.6 L1086.3 1155.0 L1093.0 1146.7 L1097.2 1151.1 L1101.3 1153.3 L1105.5 1150.6 L1109.7 1145.0 L1115.5 1149.5 L1121.3 1151.7 L1128.0 1153.3 L1132.3 1140.0 L1139.7 1151.7 L1143.8 1150.2 L1148.0 1146.7 L1153.0 1150.3 L1158.0 1151.7 L1164.7 1148.3 L1169.7 1146.6 L1174.7 1143.3 L1179.7 1152.4 L1184.7 1158.3 L1189.7 1158.5 L1194.7 1156.7 L1201.3 1161.7 L1206.3 1157.5 L1211.3 1151.7 L1216.3 1152.6 L1221.3 1151.7 L1227.2 1148.9 L1233.0 1143.3 L1238.0 1160.0 L1242.2 1155.9 L1246.3 1150.0 L1253.0 1158.3 L1258.0 1156.5 L1263.0 1151.7 L1268.0 1148.5 L1273.0 1143.3 L1277.2 1147.7 L1281.3 1150.0 L1286.3 1146.5 L1291.3 1141.7 L1296.3 1149.0 L1301.3 1153.3 L1305.8 1153.1 L1310.2 1148.9 L1314.7 1148.3 L1321.3 1145.0 L1328.0 1156.7 L1334.7 1148.3 L1341.3 1150.0 L1345.5 1148.3 L1349.7 1145.0 L1354.1 1148.9 L1358.6 1149.6 L1363.0 1153.3 L1369.7 1140.0 L1376.3 1151.7 L1380.5 1152.3 L1384.7 1150.0 L1389.7 1154.9 L1394.7 1155.3 L1399.7 1160.0 L1404.7 1156.3 L1409.7 1150.0 L1416.3 1160.0 L1420.5 1153.4 L1424.7 1145.0 L1429.1 1149.3 L1433.6 1147.3 L1438.0 1151.7 L1443.0 1158.3 L1449.7 1150.0 L1454.7 1156.1 L1459.7 1160.0 L1464.7 1157.4 L1469.7 1151.7 L1475.5 1156.5 L1481.3 1158.3 L1485.5 1165.5 L1489.7 1168.3 L1495.5 1160.9 L1501.3 1151.7 L1508.0 1145.0 L1513.0 1153.5 L1518.0 1160.0 L1523.0 1163.3 L1527.3 1141.7 L1532.0 1170.0 L1537.5 1162.8 L1543.0 1151.7 L1548.0 1165.0 L1553.6 1161.6 L1559.1 1153.5 L1564.7 1150.0 L1569.1 1153.0 L1573.6 1150.6 L1578.0 1153.3 L1584.7 1160.0 L1590.5 1163.5 L1596.3 1163.3 L1600.8 1154.6 L1605.3 1143.3 L1611.3 1153.3 L1616.3 1151.8 L1621.3 1148.3 L1626.3 1157.6 L1631.3 1165.0 L1636.3 1169.1 L1641.3 1168.8 L1646.3 1173.3 L1651.2 1168.0 L1656.0 1160.0 L1661.8 1161.3 L1667.7 1160.0 L1672.7 1179.2 L1677.7 1195.0 L1682.7 1182.6 L1687.7 1166.7 L1692.7 1180.0 L1698.5 1168.3 L1704.3 1153.3 L1709.3 1166.7 L1714.3 1141.7 L1721.0 1181.7 L1725.2 1172.1 L1729.3 1160.0 L1733.5 1175.3 L1737.7 1186.7 L1744.3 1181.7 L1748.5 1188.6 L1752.7 1191.7 L1757.7 1190.4 L1762.7 1185.0 L1767.7 1187.1 L1772.7 1184.1 L1777.7 1186.8 L1782.7 1185.0 L1789.3 1190.0 L1793.5 1187.2 L1797.7 1181.7 L1804.3 1196.7 L1810.2 1200.6 L1816.0 1201.7 L1821.0 1201.6 L1826.0 1198.3 L1832.7 1206.7 L1836.8 1205.2 L1841.0 1201.7 L1845.2 1206.2 L1849.3 1208.3 L1856.0 1220.0 L1862.7 1236.7 L1869.3 1216.7 L1873.5 1217.2 L1877.7 1213.3 L1881.0 1236.7 L1887.7 1206.7 L1894.3 1233.3 L1899.3 1260.0 L1906.0 1263.3 L1912.7 1233.3 L1919.3 1216.7 L1926.0 1233.3 L1932.7 1283.3 L1939.3 1276.7 L1946.0 1300.0 L1952.7 1360.0 L1959.3 1306.7 L1966.0 1320.0 L1971.0 1328.0 L1976.0 1333.3 L1982.7 1353.3 L1989.3 1333.3 L1993.5 1328.8 L1997.7 1320.0 L2001.8 1336.8 L2006.0 1350.0 L2012.7 1366.7 L2019.3 1333.3 L2024.3 1383.3 L2027.7 1433.3 L2028.7 1500.0" stroke="#1f9e89"/>
<path d="M530.0 1483.3 L536.7 1476.7 L542.2 1473.8 L547.8 1469.5 L553.3 1466.7 L558.9 1464.3 L564.4 1460.6 L570.0 1458.3 L575.6 1454.3 L581.1 1448.9 L586.7 1445.0 L591.1 1444.3 L595.6 1442.2 L600.0 1441.7 L605.8 1437.0 L611.7 1431.3 L617.5 1427.1 L623.3 1421.7 L627.8 1417.6 L632.2 1412.2 L636.7 1408.3 L642.2 1405.4 L647.8 1401.1 L653.3 1398.3 L658.3 1394.8 L663.3 1390.0 L670.0 1378.3 L675.0 1378.3 L680.0 1378.3 L684.4 1372.9 L688.9 1365.5 L693.3 1360.0 L697.8 1358.9 L702.2 1356.4 L706.7 1355.0 L710.8 1348.8 L715.0 1341.7 L720.0 1337.2 L725.0 1331.3 L730.0 1326.7 L735.6 1320.9 L741.1 1314.0 L746.7 1308.3 L751.1 1301.5 L755.6 1293.3 L760.0 1286.7 L765.0 1281.3 L770.0 1275.0 L775.0 1265.5 L780.0 1255.0 L785.0 1249.7 L790.0 1243.3 L796.7 1238.3 L801.7 1229.0 L806.7 1218.3 L811.7 1213.7 L816.7 1208.3 L821.7 1199.7 L826.7 1189.9 L831.7 1181.7 L835.8 1181.5 L840.0 1180.0 L846.7 1166.7 L851.7 1158.1 L856.7 1148.3 L861.7 1144.5 L866.7 1138.3 L871.7 1125.0 L877.5 1120.9 L883.3 1115.0 L888.3 1113.3 L893.3 1110.0 L898.3 1103.4 L903.3 1095.0 L908.3 1092.7 L913.3 1088.3 L919.2 1082.4 L925.0 1075.0 L929.4 1074.1 L933.9 1069.2 L938.3 1068.3 L943.2 1063.2 L948.0 1056.7 L948.0 1060.7 L953.6 1056.6 L959.1 1048.4 L964.7 1044.0 L968.8 1044.7 L973.0 1042.3 L978.8 1038.4 L984.7 1032.3 L989.7 1031.2 L994.7 1027.3 L1001.3 1019.0 L1008.0 1020.7 L1013.0 1017.9 L1018.0 1011.7 L1023.0 1009.0 L1027.4 1009.6 L1031.9 1007.2 L1036.3 1007.3 L1043.0 1000.7 L1048.0 1002.3 L1053.0 999.4 L1058.0 994.0 L1063.0 992.1 L1068.0 987.3 L1073.6 989.4 L1079.1 988.4 L1084.7 990.7 L1089.7 991.5 L1094.7 988.8 L1099.7 990.4 L1104.7 989.0 L1110.7 979.0 L1116.3 985.7 L1120.7 979.0 L1128.0 989.0 L1133.0 982.3 L1139.7 994.0 L1143.8 990.1 L1148.0 984.0 L1152.2 988.9 L1156.3 990.7 L1163.0 989.0 L1169.7 979.0 L1175.5 988.7 L1181.3 995.7 L1186.3 997.5 L1191.3 995.4 L1196.3 997.3 L1201.3 1007.3 L1206.3 1003.2 L1211.3 997.3 L1216.3 997.2 L1221.3 995.7 L1226.3 987.3 L1230.5 994.7 L1234.7 1000.7 L1238.8 1002.3 L1243.0 1002.3 L1248.7 989.0 L1253.0 1004.0 L1258.8 1003.8 L1264.7 1002.3 L1271.3 990.7 L1275.8 996.4 L1280.2 998.0 L1284.7 1004.0 L1291.3 994.0 L1296.3 1002.3 L1301.3 1001.4 L1306.3 999.0 L1312.2 1001.1 L1318.0 1000.7 L1323.0 1000.5 L1328.0 997.3 L1333.8 1001.2 L1339.7 1002.3 L1344.3 999.0 L1349.0 994.0 L1353.5 1003.6 L1358.0 1010.7 L1364.7 1002.3 L1370.2 1004.9 L1375.8 1004.9 L1381.3 1007.3 L1385.8 1014.1 L1390.2 1018.4 L1394.7 1025.7 L1400.5 1017.8 L1406.3 1005.7 L1410.5 1010.0 L1414.7 1012.3 L1418.8 1012.6 L1423.0 1010.7 L1427.3 997.3 L1434.7 1012.3 L1438.8 1012.9 L1443.0 1010.7 L1448.6 1016.6 L1454.1 1019.2 L1459.7 1025.7 L1466.3 1015.7 L1470.5 1016.7 L1474.7 1014.0 L1479.7 1004.0 L1485.3 1027.3 L1490.0 1020.5 L1494.7 1010.7 L1500.5 1012.4 L1506.3 1012.3 L1511.3 1022.3 L1516.3 1024.1 L1521.3 1024.0 L1525.8 1029.0 L1530.2 1030.0 L1534.7 1035.7 L1541.3 1030.7 L1548.0 1045.7 L1553.0 1025.7 L1558.0 1030.5 L1563.0 1029.7 L1568.0 1034.0 L1573.0 1030.8 L1578.0 1025.7 L1583.6 1031.3 L1589.1 1033.1 L1594.7 1039.0 L1601.3 1030.7 L1606.3 1031.7 L1611.3 1029.6 L1616.3 1032.1 L1621.3 1030.7 L1627.2 1041.8 L1633.0 1049.0 L1638.0 1049.4 L1643.0 1047.3 L1648.0 1055.7 L1652.0 1051.9 L1656.0 1044.0 L1661.8 1042.7 L1667.7 1037.3 L1673.3 1074.0 L1678.0 1068.8 L1682.7 1060.7 L1687.7 1064.3 L1692.7 1065.7 L1699.3 1050.7 L1704.3 1053.5 L1709.3 1054.0 L1716.0 1070.7 L1720.2 1077.4 L1724.3 1080.7 L1731.0 1069.0 L1736.0 1090.7 L1741.0 1087.6 L1746.0 1078.7 L1751.0 1075.7 L1755.2 1090.2 L1759.3 1102.3 L1763.5 1099.6 L1767.7 1094.0 L1773.5 1103.2 L1779.3 1110.7 L1786.0 1102.3 L1791.0 1109.0 L1797.7 1100.7 L1803.5 1116.1 L1809.3 1129.0 L1813.8 1119.7 L1818.2 1106.8 L1822.7 1097.3 L1829.3 1139.0 L1834.3 1104.0 L1841.0 1132.3 L1844.3 1120.7 L1848.5 1133.3 L1852.7 1144.0 L1858.5 1154.5 L1864.3 1160.7 L1869.3 1170.7 L1876.0 1154.0 L1881.0 1151.9 L1886.0 1147.3 L1892.7 1186.7 L1896.0 1233.3 L1901.0 1260.0 L1906.0 1266.7 L1912.7 1240.0 L1916.0 1213.3 L1922.7 1206.7 L1929.3 1233.3 L1936.0 1280.0 L1942.7 1286.7 L1949.3 1300.0 L1953.5 1298.2 L1957.7 1293.3 L1961.8 1304.9 L1966.0 1313.3 L1971.0 1318.2 L1976.0 1320.0 L1982.7 1333.3 L1987.7 1341.7 L1992.7 1346.7 L1999.3 1366.7 L2006.0 1386.7 L2011.0 1403.2 L2016.0 1416.7 L2021.0 1433.3 L2026.0 1466.7 L2028.7 1500.0" stroke="#26828e"/>
<path d="M423.3 1483.3 L430.0 1476.7 L435.6 1472.7 L441.1 1467.2 L446.7 1463.3 L451.7 1459.9 L456.7 1455.0 L461.7 1454.6 L466.7 1453.3 L472.5 1447.3 L478.3 1440.0 L482.9 1437.7 L487.5 1433.6 L492.1 1431.6 L496.7 1428.3 L502.2 1422.0 L507.8 1414.6 L513.3 1408.3 L518.3 1408.3 L523.3 1408.3 L528.9 1402.6 L534.4 1395.6 L540.0 1390.0 L545.0 1387.9 L550.0 1385.0 L555.0 1379.0 L560.0 1371.7 L565.0 1367.3 L570.0 1361.7 L575.6 1358.2 L581.1 1353.2 L586.7 1350.0 L591.7 1343.6 L596.7 1336.7 L601.7 1336.5 L606.7 1335.0 L613.3 1318.3 L617.8 1313.4 L622.2 1306.9 L626.7 1301.7 L631.7 1294.7 L636.7 1286.7 L642.5 1284.7 L648.3 1281.7 L653.3 1268.3 L658.3 1264.8 L663.3 1260.0 L666.7 1248.3 L672.5 1247.9 L678.3 1246.7 L683.3 1238.3 L688.3 1228.2 L693.3 1220.0 L699.2 1218.9 L705.0 1216.7 L710.0 1200.0 L716.7 1201.7 L723.3 1190.0 L728.3 1185.4 L733.3 1180.0 L737.8 1171.4 L742.2 1161.5 L746.7 1153.3 L751.7 1150.1 L756.7 1145.1 L761.7 1142.4 L766.7 1138.3 L771.7 1122.3 L776.7 1105.0 L781.7 1104.0 L786.7 1101.7 L791.1 1094.0 L795.6 1084.7 L800.0 1076.7 L804.2 1075.4 L808.3 1073.3 L814.2 1065.3 L820.0 1056.7 L824.2 1044.8 L828.3 1031.7 L834.2 1026.3 L840.0 1020.0 L844.2 1018.2 L848.3 1015.0 L852.5 1004.9 L856.7 994.0 L861.7 990.7 L865.8 982.9 L870.0 972.3 L874.4 969.4 L878.9 962.6 L883.3 959.0 L888.3 951.8 L893.3 942.3 L899.2 943.9 L905.0 942.3 L911.7 927.3 L917.5 927.6 L923.3 925.7 L930.0 917.3 L936.7 915.7 L942.3 911.7 L948.0 905.7 L953.0 902.4 L958.0 897.3 L963.0 893.2 L968.0 885.4 L973.0 880.7 L977.2 882.7 L981.3 882.3 L985.8 878.0 L990.2 870.1 L994.7 865.7 L999.7 868.1 L1004.7 869.0 L1009.7 854.0 L1014.7 853.6 L1019.7 850.7 L1024.1 851.6 L1028.6 848.6 L1033.0 849.0 L1037.4 846.1 L1041.9 839.7 L1046.3 837.3 L1053.0 829.0 L1057.2 832.7 L1061.3 834.0 L1066.3 834.9 L1071.3 834.0 L1075.5 835.5 L1079.7 835.7 L1085.3 842.3 L1090.0 839.5 L1094.7 834.0 L1099.7 831.6 L1104.7 827.3 L1109.7 832.3 L1115.2 828.4 L1120.7 822.3 L1128.0 835.7 L1133.0 827.3 L1139.7 834.0 L1145.5 836.6 L1151.3 837.3 L1158.0 829.0 L1163.0 834.4 L1168.0 837.3 L1173.0 836.2 L1178.0 832.3 L1184.7 850.7 L1189.7 844.9 L1194.7 837.3 L1199.7 846.4 L1204.7 854.0 L1211.0 848.9 L1217.3 840.7 L1224.7 847.3 L1228.8 850.5 L1233.0 850.7 L1238.0 859.0 L1243.8 853.8 L1249.7 847.3 L1254.7 851.8 L1259.7 854.0 L1264.7 852.0 L1269.7 847.3 L1274.7 851.7 L1279.7 854.0 L1283.8 852.8 L1288.0 849.0 L1292.2 858.1 L1296.3 864.0 L1301.3 854.0 L1306.3 856.0 L1311.3 855.7 L1318.0 847.3 L1323.0 850.0 L1328.0 850.7 L1333.8 857.3 L1339.7 862.3 L1344.7 860.7 L1349.7 857.3 L1354.7 867.3 L1359.7 862.3 L1364.7 870.7 L1371.3 857.3 L1374.7 865.7 L1379.7 854.0 L1383.8 862.3 L1388.0 869.0 L1392.4 873.6 L1396.9 875.9 L1401.3 880.7 L1408.0 879.0 L1414.7 884.0 L1419.7 880.2 L1424.7 872.3 L1429.1 877.3 L1433.6 877.1 L1438.0 882.3 L1443.0 879.0 L1448.8 888.6 L1454.7 894.0 L1460.5 889.3 L1466.3 880.7 L1470.8 881.1 L1475.2 877.5 L1479.7 879.0 L1483.8 888.3 L1488.0 895.7 L1494.7 884.0 L1499.7 900.7 L1506.3 880.7 L1511.3 894.0 L1516.3 889.0 L1520.5 896.7 L1524.7 900.7 L1528.0 894.0 L1534.7 907.3 L1541.3 909.0 L1548.0 919.0 L1554.7 905.7 L1560.5 906.8 L1566.3 904.0 L1570.5 902.4 L1574.7 897.3 L1579.7 915.7 L1583.8 919.6 L1588.0 920.7 L1592.2 919.1 L1596.3 915.7 L1603.0 920.7 L1607.2 920.0 L1611.3 917.3 L1615.5 924.1 L1619.7 927.3 L1623.8 930.2 L1628.0 930.7 L1634.7 950.7 L1641.3 937.3 L1646.3 952.3 L1651.2 943.1 L1656.0 930.7 L1660.2 940.2 L1664.3 947.3 L1669.3 930.7 L1674.3 974.0 L1678.5 962.6 L1682.7 949.0 L1687.7 963.6 L1692.7 975.7 L1697.7 970.0 L1702.7 960.7 L1706.8 973.0 L1711.0 982.3 L1717.7 974.0 L1721.8 983.7 L1726.0 990.7 L1731.0 982.3 L1735.2 997.2 L1739.3 1009.0 L1745.2 1004.8 L1751.0 997.3 L1757.7 1027.3 L1762.7 1002.3 L1769.3 1020.7 L1773.5 1031.4 L1777.7 1039.0 L1782.7 1034.0 L1787.7 1057.3 L1792.7 1025.7 L1797.7 1033.8 L1802.7 1039.0 L1807.7 1047.0 L1812.7 1050.7 L1816.8 1049.2 L1821.0 1044.0 L1825.2 1056.8 L1829.3 1067.3 L1834.3 1074.5 L1839.3 1079.0 L1844.3 1082.6 L1849.3 1084.0 L1853.5 1090.4 L1857.7 1094.0 L1863.5 1101.6 L1869.3 1107.3 L1873.5 1112.5 L1877.7 1114.0 L1884.3 1110.7 L1889.3 1095.7 L1894.3 1130.7 L1897.7 1164.0 L1903.5 1169.0 L1909.3 1170.7 L1916.0 1159.0 L1922.7 1174.0 L1927.7 1160.7 L1932.7 1180.7 L1936.0 1200.0 L1941.0 1213.3 L1947.7 1203.3 L1952.7 1240.0 L1959.3 1246.7 L1966.0 1273.3 L1970.2 1273.1 L1974.3 1270.0 L1979.3 1276.7 L1984.3 1300.0 L1989.3 1330.0 L1996.0 1353.3 L2002.7 1373.3 L2009.3 1400.0 L2016.0 1423.3 L2021.0 1443.3 L2026.0 1473.3 L2028.0 1500.0" stroke="#31688e"/>
<path d="M366.7 1483.3 L373.3 1476.7 L377.8 1473.1 L382.2 1468.3 L386.7 1465.0 L391.7 1462.6 L396.7 1459.1 L401.7 1456.7 L405.8 1450.5 L410.0 1443.3 L415.8 1442.2 L421.7 1440.0 L426.2 1435.5 L430.8 1429.5 L435.4 1425.4 L440.0 1420.0 L444.2 1417.9 L448.3 1415.0 L454.2 1408.1 L460.0 1400.0 L465.0 1397.9 L470.0 1395.0 L475.0 1388.9 L480.0 1381.1 L485.0 1375.6 L490.0 1368.3 L496.7 1366.7 L501.7 1359.8 L506.7 1351.7 L511.7 1347.0 L516.7 1341.7 L521.7 1337.9 L526.7 1333.3 L531.1 1327.3 L535.6 1319.5 L540.0 1313.3 L545.0 1310.4 L550.0 1306.7 L556.7 1293.3 L561.1 1289.5 L565.6 1283.8 L570.0 1280.0 L575.0 1275.6 L580.0 1270.0 L585.0 1267.0 L590.0 1263.3 L595.0 1248.3 L600.8 1244.6 L606.7 1240.0 L613.3 1228.3 L618.3 1235.0 L623.3 1215.0 L628.3 1212.8 L633.3 1210.0 L640.0 1193.3 L645.0 1189.0 L650.0 1183.3 L655.8 1182.0 L661.7 1180.0 L666.7 1161.7 L671.7 1160.6 L676.7 1158.3 L681.7 1152.2 L686.7 1145.0 L692.5 1135.5 L698.3 1125.0 L705.0 1123.3 L710.8 1117.2 L716.7 1110.0 L723.3 1093.3 L727.8 1087.8 L732.2 1080.6 L736.7 1075.0 L741.7 1067.1 L746.7 1058.3 L752.5 1052.0 L758.3 1045.0 L762.5 1043.0 L766.7 1040.0 L773.3 1020.0 L779.2 1016.5 L785.0 1011.7 L790.0 1005.7 L795.0 999.0 L800.8 986.2 L806.7 972.3 L811.7 969.0 L816.7 964.2 L821.7 960.7 L825.0 947.3 L830.0 941.6 L835.0 934.5 L840.0 929.0 L846.7 917.3 L852.5 912.0 L858.3 905.7 L864.2 894.2 L870.0 880.7 L874.2 880.1 L878.3 877.3 L882.5 870.6 L886.7 862.3 L893.3 864.0 L898.3 858.6 L903.3 850.7 L910.0 847.3 L916.7 834.0 L920.8 832.7 L925.0 829.0 L930.0 834.0 L936.7 825.7 L942.3 821.8 L948.0 815.7 L953.0 810.5 L958.0 802.0 L963.0 797.3 L967.2 797.1 L971.3 794.0 L978.0 799.0 L984.7 789.0 L988.8 788.5 L993.0 785.7 L998.0 782.2 L1003.0 777.3 L1008.8 776.4 L1014.7 774.0 L1020.5 769.0 L1026.3 762.3 L1030.5 764.7 L1034.7 765.7 L1039.7 764.4 L1044.7 760.7 L1049.7 760.2 L1054.7 757.3 L1058.8 752.3 L1063.0 745.7 L1069.7 750.7 L1074.2 752.2 L1078.8 749.4 L1083.4 752.1 L1088.0 750.7 L1094.7 745.7 L1099.7 750.4 L1104.7 752.3 L1109.7 752.8 L1114.7 750.7 L1121.3 745.7 L1126.3 762.3 L1133.0 754.0 L1138.0 756.3 L1143.0 754.6 L1148.0 757.3 L1152.2 759.8 L1156.3 760.7 L1160.8 761.4 L1165.2 758.1 L1169.7 759.0 L1173.8 763.4 L1178.0 765.7 L1182.4 768.2 L1186.9 767.1 L1191.3 769.0 L1197.2 775.0 L1203.0 779.0 L1207.2 774.1 L1211.3 767.3 L1215.5 770.9 L1219.7 772.3 L1223.8 772.0 L1228.0 769.0 L1233.0 774.8 L1238.0 778.0 L1243.0 784.0 L1247.2 782.1 L1251.3 777.3 L1255.5 781.6 L1259.7 784.0 L1264.7 778.1 L1269.7 770.7 L1276.3 770.7 L1279.7 792.3 L1286.3 772.3 L1291.3 784.8 L1296.3 794.0 L1301.3 781.8 L1306.3 767.3 L1313.0 785.7 L1318.0 784.7 L1323.0 781.1 L1328.0 780.7 L1332.2 783.9 L1336.3 785.7 L1340.5 788.1 L1344.7 789.0 L1351.3 782.3 L1355.5 790.3 L1359.7 795.7 L1364.7 795.3 L1369.7 792.3 L1375.5 791.7 L1381.3 789.0 L1385.5 794.3 L1389.7 797.3 L1396.3 810.7 L1401.3 815.7 L1406.3 800.7 L1409.7 815.7 L1416.3 819.0 L1421.3 812.3 L1426.3 802.3 L1431.3 806.0 L1436.3 805.8 L1441.3 809.0 L1447.3 807.3 L1451.8 817.6 L1456.3 824.0 L1460.5 820.1 L1464.7 812.3 L1468.0 824.0 L1474.7 817.3 L1479.7 821.3 L1484.7 822.3 L1489.7 842.3 L1494.7 842.9 L1499.7 840.7 L1505.3 824.0 L1511.3 845.7 L1518.0 830.7 L1523.0 838.2 L1528.0 842.3 L1532.0 857.3 L1537.3 856.6 L1542.7 851.5 L1548.0 850.7 L1553.0 835.7 L1557.2 847.7 L1561.3 855.7 L1568.0 867.3 L1574.7 850.7 L1579.1 858.9 L1583.6 861.8 L1588.0 869.0 L1593.0 873.4 L1598.0 875.7 L1602.2 870.9 L1606.3 862.3 L1611.3 872.3 L1616.3 872.0 L1621.3 867.3 L1626.3 897.3 L1631.3 882.3 L1638.0 907.3 L1642.2 906.7 L1646.3 902.3 L1651.3 890.7 L1656.0 904.0 L1660.2 909.4 L1664.3 912.3 L1667.7 884.0 L1672.7 929.0 L1677.7 927.5 L1682.7 924.0 L1689.3 905.7 L1694.3 925.7 L1699.3 919.0 L1706.0 947.3 L1710.2 941.8 L1714.3 932.3 L1719.3 952.3 L1726.0 929.0 L1732.7 949.0 L1736.8 966.9 L1741.0 980.7 L1746.0 977.3 L1751.0 955.7 L1757.7 982.3 L1762.7 969.0 L1767.7 986.7 L1772.7 1000.7 L1778.5 1005.9 L1784.3 1007.3 L1788.5 1007.0 L1792.7 1002.3 L1797.7 1009.7 L1802.7 1014.0 L1807.7 1037.3 L1812.7 1015.7 L1816.8 1031.1 L1821.0 1042.3 L1825.2 1037.7 L1829.3 1030.7 L1833.5 1053.3 L1837.7 1074.0 L1843.5 1070.2 L1849.3 1062.3 L1856.0 1077.3 L1861.0 1114.0 L1866.0 1089.0 L1871.0 1124.0 L1876.8 1122.5 L1882.7 1117.3 L1889.3 1134.0 L1896.0 1186.7 L1902.7 1193.3 L1909.3 1176.7 L1913.5 1168.6 L1917.7 1156.7 L1921.8 1162.7 L1926.0 1166.7 L1932.7 1200.0 L1937.7 1226.7 L1942.7 1240.0 L1949.3 1266.7 L1954.3 1300.0 L1958.5 1291.3 L1962.7 1280.0 L1969.3 1313.3 L1976.0 1333.3 L1982.7 1353.3 L1989.3 1393.3 L1994.3 1423.3 L2001.0 1410.0 L2006.0 1433.3 L2011.0 1473.3 L2014.3 1486.7 L2019.3 1480.0 L2022.7 1466.7 L2026.7 1500.0" stroke="#404688"/>
<path d="M240.0 1358.3 L244.2 1356.4 L248.3 1353.3 L254.2 1348.9 L260.0 1343.3 L264.2 1335.5 L268.3 1326.7 L273.9 1321.6 L279.4 1315.1 L285.0 1310.0 L291.7 1296.7 L296.7 1289.0 L301.7 1280.0 L306.7 1265.0 L313.3 1241.7 L319.2 1235.8 L325.0 1228.8 L330.8 1223.3 L336.7 1216.7 L343.3 1190.0 L348.3 1184.3 L353.3 1177.4 L358.3 1171.7 L365.0 1150.0 L370.0 1143.2 L375.0 1135.2 L380.0 1128.3 L385.0 1110.0 L390.6 1107.1 L396.1 1102.9 L401.7 1100.0 L408.3 1075.0 L414.2 1072.2 L420.0 1068.3 L425.0 1057.9 L430.0 1046.7 L435.0 1037.0 L440.0 1026.7 L446.7 1030.0 L450.8 1017.0 L455.0 1003.3 L459.2 1001.7 L463.3 999.0 L467.8 991.1 L472.2 981.7 L476.7 974.0 L480.8 973.8 L485.0 972.3 L491.7 954.0 L496.1 950.0 L500.6 944.8 L505.0 940.7 L511.7 939.0 L516.7 930.7 L521.7 920.6 L526.7 912.3 L531.1 907.2 L535.6 900.7 L540.0 895.7 L544.4 891.1 L548.9 885.0 L553.3 880.7 L557.5 873.0 L561.7 864.0 L565.8 859.6 L570.0 854.0 L574.4 851.3 L578.9 847.0 L583.3 844.0 L587.8 837.3 L592.2 829.0 L596.7 822.3 L602.5 819.6 L608.3 815.7 L613.3 800.7 L618.3 804.0 L625.0 785.7 L630.0 780.3 L635.0 774.0 L640.0 759.0 L645.0 760.7 L651.7 752.3 L658.3 749.0 L662.5 741.0 L666.7 732.3 L671.7 728.7 L676.7 724.0 L682.2 714.9 L687.8 704.5 L693.3 695.7 L699.2 693.4 L705.0 690.7 L710.0 669.0 L716.7 672.3 L722.5 662.0 L728.3 650.7 L732.8 646.7 L737.2 641.4 L741.7 637.3 L748.3 620.7 L754.2 612.5 L760.0 603.3 L764.4 598.8 L768.9 592.9 L773.3 588.3 L777.8 585.1 L782.2 579.9 L786.7 576.7 L790.8 570.7 L795.0 563.3 L800.0 546.7 L805.8 539.5 L811.7 531.7 L818.3 530.0 L823.3 513.3 L827.8 509.7 L832.2 505.1 L836.7 501.7 L843.3 485.0 L847.5 483.7 L851.7 481.7 L856.7 470.0 L861.7 466.7 L866.7 450.0 L871.7 443.8 L876.7 435.0 L881.7 430.1 L886.7 423.3 L891.1 423.0 L895.6 420.2 L900.0 420.0 L905.0 414.4 L910.0 406.7 L914.2 402.2 L918.3 395.0 L923.3 401.7 L928.3 396.9 L933.3 390.0 L938.2 388.7 L943.1 384.3 L948.0 383.3 L953.8 379.9 L959.7 375.0 L965.5 370.8 L971.3 365.0 L976.3 365.5 L981.3 363.3 L987.2 357.2 L993.0 348.3 L999.7 353.3 L1004.7 349.1 L1009.7 342.6 L1014.7 338.3 L1020.5 337.0 L1026.3 333.3 L1031.3 337.9 L1036.3 340.0 L1043.0 320.0 L1048.0 320.0 L1053.0 324.0 L1058.0 326.7 L1063.0 335.0 L1067.5 328.6 L1072.0 320.0 L1079.7 335.0 L1084.7 332.6 L1089.7 328.3 L1094.7 329.1 L1099.7 327.5 L1104.7 328.3 L1111.3 321.7 L1116.3 328.3 L1121.3 327.6 L1126.3 323.9 L1131.3 323.3 L1137.2 329.1 L1143.0 333.3 L1148.0 328.3 L1152.2 334.6 L1156.3 338.3 L1160.5 335.7 L1164.7 330.0 L1169.7 333.0 L1174.7 333.3 L1181.3 345.0 L1186.3 358.3 L1191.3 358.2 L1196.3 356.7 L1201.3 373.3 L1206.7 367.4 L1212.0 357.6 L1217.3 351.7 L1223.0 361.7 L1228.8 362.3 L1234.7 361.7 L1238.0 373.3 L1242.4 372.7 L1246.9 368.7 L1251.3 368.3 L1255.5 373.2 L1259.7 375.0 L1264.7 372.6 L1269.7 366.0 L1274.7 363.3 L1279.7 385.0 L1283.8 379.5 L1288.0 371.7 L1292.4 376.6 L1296.9 377.5 L1301.3 381.7 L1306.3 375.0 L1313.0 385.0 L1317.4 382.2 L1321.9 376.5 L1326.3 373.3 L1331.3 383.1 L1336.3 390.0 L1341.3 392.4 L1346.3 391.4 L1351.3 393.3 L1356.3 395.0 L1361.3 395.0 L1364.7 401.7 L1370.7 388.3 L1375.2 403.6 L1379.7 416.7 L1384.7 408.3 L1390.5 418.9 L1396.3 426.7 L1402.0 411.7 L1409.7 421.7 L1413.8 422.7 L1418.0 421.7 L1422.7 418.0 L1427.3 411.7 L1433.0 425.0 L1438.0 428.3 L1444.7 443.3 L1448.7 438.3 L1454.7 448.3 L1459.7 438.2 L1464.7 425.0 L1470.5 439.6 L1476.3 451.7 L1481.3 455.4 L1486.3 455.0 L1491.3 466.0 L1496.3 473.3 L1501.3 471.7 L1506.3 451.7 L1511.3 470.0 L1516.3 458.3 L1522.0 483.3 L1527.3 463.3 L1533.0 490.0 L1539.7 496.7 L1543.0 485.0 L1549.0 501.7 L1553.5 499.6 L1558.0 493.3 L1563.3 488.4 L1568.7 480.0 L1574.2 498.4 L1579.7 513.3 L1586.3 520.0 L1590.5 513.8 L1594.7 505.0 L1601.3 536.7 L1606.3 513.3 L1611.3 527.4 L1616.3 538.3 L1622.0 526.7 L1629.7 543.3 L1633.8 551.4 L1638.0 556.7 L1643.8 557.3 L1649.7 555.0 L1656.0 563.3 L1659.3 566.7 L1663.5 569.3 L1667.7 570.0 L1674.3 591.7 L1680.2 592.0 L1686.0 588.3 L1692.7 608.3 L1699.3 595.0 L1703.5 600.3 L1707.7 603.3 L1711.8 603.2 L1716.0 600.0 L1718.7 614.0 L1721.0 639.0 L1726.8 640.3 L1732.7 637.3 L1736.8 644.7 L1741.0 649.0 L1746.0 647.7 L1751.0 642.3 L1756.0 689.0 L1762.7 669.0 L1766.8 675.2 L1771.0 679.0 L1777.7 697.3 L1782.7 684.0 L1787.7 717.3 L1792.7 707.3 L1799.3 714.0 L1803.5 728.8 L1807.7 740.7 L1814.3 744.0 L1819.3 759.0 L1824.3 751.2 L1829.3 740.7 L1834.3 764.0 L1839.3 760.7 L1846.0 784.0 L1851.0 803.6 L1856.0 820.7 L1862.7 810.7 L1869.3 862.3 L1873.5 857.9 L1877.7 850.7 L1881.8 848.0 L1886.0 842.3 L1892.7 867.3 L1896.8 899.3 L1901.0 927.3 L1905.2 926.2 L1909.3 920.7 L1916.0 927.3 L1922.7 954.0 L1929.3 955.7 L1933.5 978.3 L1937.7 999.0 L1942.7 994.0 L1947.7 1027.4 L1952.7 1057.3 L1959.3 1060.7 L1962.7 1099.0 L1969.3 1070.7 L1972.7 1094.0 L1977.7 1097.3 L1981.8 1122.2 L1986.0 1144.0 L1990.2 1173.4 L1994.3 1200.0 L1999.3 1207.6 L2004.3 1213.3 L2009.3 1246.7 L2016.0 1286.7 L2022.7 1295.0 L2026.0 1320.0 L2029.0 1360.0 L2032.7 1402.0" stroke="#482878"/>
<path d="M240.0 1100.0 L244.2 1099.0 L248.3 1096.7 L254.2 1093.1 L260.0 1088.3 L265.0 1078.1 L270.0 1066.7 L274.2 1066.7 L278.3 1066.7 L281.7 1050.0 L286.7 1040.4 L291.7 1030.0 L295.8 1026.4 L300.0 1021.7 L305.8 1011.5 L311.7 1000.0 L315.0 984.0 L320.0 976.3 L325.0 967.3 L330.8 957.9 L336.7 947.3 L341.7 933.5 L346.7 919.0 L351.7 915.3 L356.7 910.7 L363.3 889.0 L367.5 887.2 L371.7 884.0 L377.5 865.2 L383.3 845.7 L388.3 842.7 L393.3 839.0 L398.3 833.8 L403.3 827.3 L406.7 814.0 L411.7 811.1 L416.7 807.3 L421.1 802.1 L425.6 795.8 L430.0 790.7 L435.0 770.7 L440.8 768.0 L446.7 764.0 L450.8 752.8 L455.0 740.7 L459.6 737.0 L464.2 731.8 L468.8 728.8 L473.3 724.0 L477.8 714.5 L482.2 703.7 L486.7 694.0 L491.7 692.0 L496.7 689.0 L500.8 681.8 L505.0 674.0 L511.7 672.3 L515.0 654.0 L521.7 655.7 L526.7 645.7 L533.3 642.3 L536.7 630.7 L541.7 627.7 L546.7 624.0 L553.3 614.0 L560.0 603.3 L565.0 595.4 L570.0 586.7 L576.7 571.7 L581.7 571.4 L586.7 570.0 L590.8 560.4 L595.0 550.0 L599.2 549.7 L603.3 548.3 L607.8 542.6 L612.2 535.8 L616.7 530.0 L623.3 511.7 L630.0 510.0 L636.7 493.3 L640.8 493.3 L645.0 493.3 L651.7 483.3 L658.3 483.3 L662.5 474.7 L666.7 465.0 L671.7 461.5 L676.7 456.7 L681.7 450.4 L686.7 443.3 L693.3 433.3 L698.3 430.4 L703.3 426.7 L708.3 410.0 L714.7 403.3 L720.0 391.7 L725.0 389.5 L730.0 386.7 L736.7 373.3 L743.3 373.3 L746.7 358.3 L750.8 359.7 L755.0 360.0 L759.2 347.9 L763.3 335.0 L768.3 330.3 L773.3 325.0 L777.8 320.6 L782.2 314.5 L786.7 310.0 L791.7 302.1 L796.7 293.3 L800.8 283.7 L805.0 273.3 L810.8 269.7 L816.7 265.0 L821.7 245.0 L826.1 245.0 L830.6 245.0 L835.0 245.0 L839.2 233.7 L843.3 221.7 L847.5 217.3 L851.7 211.7 L855.0 200.0 L861.7 205.0 L865.8 197.3 L870.0 186.7 L874.2 183.0 L878.3 176.7 L882.5 172.4 L886.7 165.0 L892.5 166.2 L898.3 165.0 L902.5 158.5 L906.7 150.0 L912.5 149.1 L918.3 146.7 L923.3 138.3 L927.8 136.8 L932.2 131.6 L936.7 130.0 L942.3 123.6 L948.0 115.0 L954.7 111.7 L959.7 111.6 L964.7 108.3 L968.8 107.3 L973.0 103.3 L978.0 105.0 L983.8 104.1 L989.7 101.7 L994.7 94.8 L999.7 85.0 L1004.7 88.3 L1009.7 85.6 L1014.7 80.4 L1019.7 78.3 L1026.3 73.3 L1031.3 71.8 L1036.3 68.3 L1041.7 77.2 L1047.0 83.3 L1053.3 79.1 L1059.7 71.7 L1064.4 69.5 L1069.2 63.6 L1074.0 61.7 L1079.3 68.2 L1084.7 73.3 L1089.7 68.3 L1093.8 72.1 L1098.0 73.3 L1102.4 70.2 L1106.9 64.5 L1111.3 61.7 L1118.0 71.7 L1123.0 72.3 L1128.0 70.3 L1133.0 70.7 L1138.0 80.9 L1143.0 88.3 L1147.4 89.6 L1151.9 88.6 L1156.3 90.0 L1160.9 90.3 L1165.5 87.9 L1170.1 89.7 L1174.7 88.3 L1179.7 113.3 L1184.7 103.3 L1190.1 104.0 L1195.5 102.7 L1200.9 104.2 L1206.3 103.3 L1211.3 115.0 L1217.3 98.3 L1223.0 120.0 L1228.0 115.0 L1233.0 119.5 L1238.0 121.7 L1243.0 138.3 L1249.7 123.3 L1253.8 119.8 L1258.0 115.0 L1263.8 113.2 L1269.7 110.0 L1276.3 121.7 L1280.5 122.9 L1284.7 121.7 L1289.7 128.6 L1294.7 133.3 L1300.2 138.3 L1305.7 141.7 L1310.2 138.4 L1314.7 133.3 L1319.1 134.6 L1323.6 133.5 L1328.0 135.0 L1333.0 150.0 L1338.0 146.6 L1343.0 140.3 L1348.0 136.7 L1352.2 145.0 L1356.3 151.7 L1360.8 152.5 L1365.2 150.7 L1369.7 151.7 L1373.8 159.5 L1378.0 165.0 L1383.0 174.0 L1388.0 180.0 L1393.8 186.3 L1399.7 190.0 L1405.5 180.6 L1411.3 168.3 L1418.0 183.3 L1422.4 183.1 L1426.9 180.0 L1431.3 180.0 L1436.9 192.3 L1442.4 199.7 L1448.0 211.7 L1453.0 208.1 L1458.0 198.5 L1463.0 195.0 L1467.2 207.1 L1471.3 216.7 L1475.5 210.5 L1479.7 201.7 L1484.7 215.0 L1489.7 219.6 L1494.7 221.7 L1499.7 246.7 L1504.7 221.7 L1509.7 246.7 L1516.3 218.3 L1521.3 243.3 L1528.0 221.7 L1532.2 238.4 L1536.3 251.7 L1542.2 255.2 L1548.0 256.7 L1553.0 267.1 L1558.0 275.0 L1564.7 253.3 L1569.7 257.0 L1574.7 256.7 L1579.7 276.7 L1586.3 261.7 L1591.3 278.0 L1596.3 291.7 L1601.3 283.8 L1606.3 271.7 L1610.5 280.6 L1614.7 286.7 L1621.3 313.3 L1626.3 309.5 L1631.3 301.7 L1638.0 318.3 L1643.0 306.7 L1646.3 335.0 L1651.2 324.0 L1656.0 310.0 L1662.7 333.3 L1669.3 361.7 L1672.7 376.7 L1677.7 360.0 L1682.7 373.3 L1687.7 372.7 L1692.7 370.0 L1699.3 356.7 L1704.3 393.3 L1711.0 378.3 L1717.7 388.3 L1721.8 392.5 L1726.0 393.3 L1730.2 404.5 L1734.3 413.3 L1741.0 430.0 L1746.5 418.8 L1752.0 403.3 L1756.0 445.0 L1762.7 445.0 L1766.0 465.0 L1771.0 453.3 L1777.7 483.3 L1782.7 465.0 L1786.8 479.3 L1791.0 490.0 L1797.7 483.3 L1802.7 520.0 L1807.7 525.0 L1813.7 493.3 L1819.0 500.7 L1824.3 505.0 L1829.3 546.7 L1834.3 549.3 L1839.3 546.2 L1844.3 548.3 L1848.5 564.7 L1852.7 576.7 L1859.3 611.7 L1864.3 615.5 L1869.3 615.7 L1876.0 647.3 L1882.7 629.0 L1889.3 617.3 L1896.0 674.0 L1901.0 677.3 L1906.0 714.0 L1911.0 734.0 L1917.7 695.7 L1919.3 729.0 L1923.5 735.1 L1927.7 739.0 L1932.7 774.0 L1937.7 777.8 L1942.7 779.0 L1947.7 800.7 L1952.7 860.7 L1957.7 830.7 L1961.8 847.7 L1966.0 860.7 L1971.0 897.3 L1977.7 890.7 L1982.7 927.3 L1989.3 960.7 L1994.3 1007.3 L2001.0 992.3 L2007.7 1024.0 L2012.7 1050.7 L2016.0 1094.0 L2021.0 1087.3 L2026.0 1114.0 L2028.7 1150.7 L2032.0 1192.3" stroke="#440154"/>
</g>
<g stroke="#000" stroke-width="4.6" fill="none" stroke-linecap="butt"><line x1="246.90" y1="43.5" x2="246.90" y2="1484.8"/><line x1="2043.40" y1="43.5" x2="2043.40" y2="1484.8"/><line x1="244.5" y1="45.80" x2="2029.30" y2="45.80"/><line x1="244.5" y1="1480.40" x2="2029.30" y2="1480.40"/><line x1="277.30" y1="1452.3" x2="277.30" y2="1480"/><line x1="421.93" y1="1466.6" x2="421.93" y2="1480"/><line x1="568.55" y1="1452.3" x2="568.55" y2="1480"/><line x1="713.17" y1="1466.6" x2="713.17" y2="1480"/><line x1="860.50" y1="1452.3" x2="860.50" y2="1480"/><line x1="1005.42" y1="1466.6" x2="1005.42" y2="1480"/><line x1="1152.05" y1="1452.3" x2="1152.05" y2="1480"/><line x1="1297.38" y1="1466.6" x2="1297.38" y2="1480"/><line x1="1444.00" y1="1452.3" x2="1444.00" y2="1480"/><line x1="1588.83" y1="1466.6" x2="1588.83" y2="1480"/><line x1="1733.05" y1="1452.3" x2="1733.05" y2="1480"/><line x1="1879.88" y1="1466.6" x2="1879.88" y2="1480"/><line x1="2024.80" y1="1452.3" x2="2024.80" y2="1480"/><line x1="247" y1="1461.50" x2="275.0" y2="1461.50"/><line x1="247" y1="1272.93" x2="261.0" y2="1272.93"/><line x1="247" y1="1083.06" x2="275.0" y2="1083.06"/><line x1="247" y1="895.09" x2="261.0" y2="895.09"/><line x1="247" y1="705.81" x2="275.0" y2="705.81"/><line x1="247" y1="518.64" x2="261.0" y2="518.64"/><line x1="247" y1="330.07" x2="275.0" y2="330.07"/><line x1="247" y1="141.50" x2="261.0" y2="141.50"/></g>
<rect x="278.5" y="58.9" width="198.1" height="543.5" fill="#fff" stroke="#000" stroke-width="2.6"/>
<line x1="281.6" y1="89.0" x2="382.5" y2="89.0" stroke="#fde725" stroke-width="7"/>
<line x1="279.8" y1="89.0" x2="384.8" y2="89.0" stroke="#fde725" stroke-width="2.4"/>
<text class="l" x="389.6" y="101.9" font-size="45.7">A0</text>
<line x1="281.6" y1="142.6" x2="382.5" y2="142.6" stroke="#a5db36" stroke-width="7"/>
<line x1="279.8" y1="142.6" x2="384.8" y2="142.6" stroke="#a5db36" stroke-width="2.4"/>
<text class="l" x="389.6" y="155.5" font-size="45.7">A2</text>
<line x1="281.6" y1="196.2" x2="382.5" y2="196.2" stroke="#7ad151" stroke-width="7"/>
<line x1="279.8" y1="196.2" x2="384.8" y2="196.2" stroke="#7ad151" stroke-width="2.4"/>
<text class="l" x="389.6" y="209.1" font-size="45.7">A6</text>
<line x1="281.6" y1="249.9" x2="382.5" y2="249.9" stroke="#35b779" stroke-width="7"/>
<line x1="279.8" y1="249.9" x2="384.8" y2="249.9" stroke="#35b779" stroke-width="2.4"/>
<text class="l" x="389.6" y="262.8" font-size="45.7">A8</text>
<line x1="281.6" y1="303.5" x2="382.5" y2="303.5" stroke="#1f9e89" stroke-width="7"/>
<line x1="279.8" y1="303.5" x2="384.8" y2="303.5" stroke="#1f9e89" stroke-width="2.4"/>
<text class="l" x="389.6" y="316.4" font-size="45.7">A10</text>
<line x1="281.6" y1="357.1" x2="382.5" y2="357.1" stroke="#26828e" stroke-width="7"/>
<line x1="279.8" y1="357.1" x2="384.8" y2="357.1" stroke="#26828e" stroke-width="2.4"/>
<text class="l" x="389.6" y="370.0" font-size="45.7">A13</text>
<line x1="281.6" y1="410.7" x2="382.5" y2="410.7" stroke="#31688e" stroke-width="7"/>
<line x1="279.8" y1="410.7" x2="384.8" y2="410.7" stroke="#31688e" stroke-width="2.4"/>
<text class="l" x="389.6" y="423.6" font-size="45.7">A15</text>
<line x1="281.6" y1="464.3" x2="382.5" y2="464.3" stroke="#404688" stroke-width="7"/>
<line x1="279.8" y1="464.3" x2="384.8" y2="464.3" stroke="#404688" stroke-width="2.4"/>
<text class="l" x="389.6" y="477.2" font-size="45.7">A17</text>
<line x1="281.6" y1="518.0" x2="382.5" y2="518.0" stroke="#482878" stroke-width="7"/>
<line x1="279.8" y1="518.0" x2="384.8" y2="518.0" stroke="#482878" stroke-width="2.4"/>
<text class="l" x="389.6" y="530.9" font-size="45.7">A20</text>
<line x1="281.6" y1="571.6" x2="382.5" y2="571.6" stroke="#440154" stroke-width="7"/>
<line x1="279.8" y1="571.6" x2="384.8" y2="571.6" stroke="#440154" stroke-width="2.4"/>
<text class="l" x="389.6" y="584.5" font-size="45.7">A23</text>
<text class="t" x="276.7" y="1557.2" font-size="59.0" letter-spacing="1.1" text-anchor="middle" stroke="#fff" stroke-width="0.6">900</text>
<text class="t" x="568.5" y="1557.2" font-size="59.0" letter-spacing="1.1" text-anchor="middle" stroke="#fff" stroke-width="0.6">920</text>
<text class="t" x="859.7" y="1557.2" font-size="59.0" letter-spacing="1.1" text-anchor="middle" stroke="#fff" stroke-width="0.6">940</text>
<text class="t" x="1151.0" y="1557.2" font-size="59.0" letter-spacing="1.1" text-anchor="middle" stroke="#fff" stroke-width="0.6">960</text>
<text class="t" x="1442.2" y="1557.2" font-size="59.0" letter-spacing="1.1" text-anchor="middle" stroke="#fff" stroke-width="0.6">980</text>
<text class="t" x="1733.5" y="1557.2" font-size="59.0" letter-spacing="1.1" text-anchor="middle" stroke="#fff" stroke-width="0.6">1000</text>
<text class="t" x="2027.1" y="1557.2" font-size="59.0" letter-spacing="1.1" text-anchor="middle" stroke="#fff" stroke-width="0.6">1020</text>
<text class="t" x="218.7" y="1478.1" font-size="59.0" letter-spacing="2.1" text-anchor="end" stroke="#fff" stroke-width="0.6">0.0</text>
<text class="t" x="218.7" y="1101.0" font-size="59.0" letter-spacing="2.1" text-anchor="end" stroke="#fff" stroke-width="0.6">0.2</text>
<text class="t" x="218.7" y="723.8" font-size="59.0" letter-spacing="2.1" text-anchor="end" stroke="#fff" stroke-width="0.6">0.4</text>
<text class="t" x="218.7" y="346.7" font-size="59.0" letter-spacing="2.1" text-anchor="end" stroke="#fff" stroke-width="0.6">0.6</text>
<text class="t" x="1137.0" y="1673.3" font-size="73" letter-spacing="1.0" style="font-kerning:none" text-anchor="middle" stroke="#fff" stroke-width="0.6">Wavelength (nm)</text>
<text class="t" transform="translate(87.8 761.3) rotate(-90)" font-size="75" style="font-kerning:none" text-anchor="middle" stroke="#000" stroke-width="0.5">Absorbance (Abs)</text>
</svg></body></html>
